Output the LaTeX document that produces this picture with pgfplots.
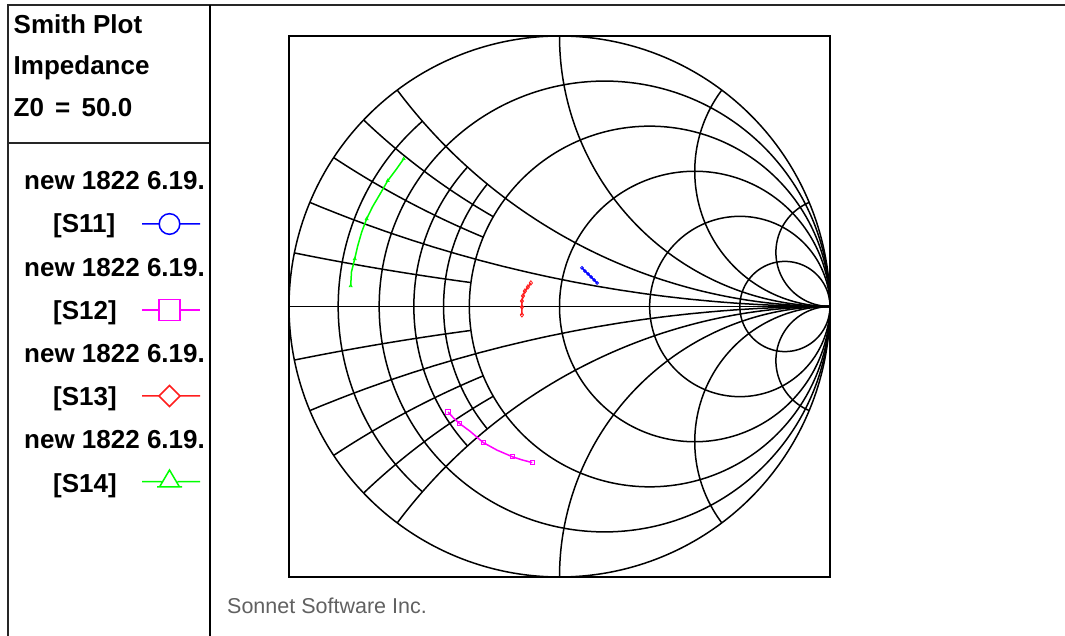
\documentclass[border=0pt]{standalone}
\usepackage{pgfplots}
\pgfplotsset{compat=1.18}
\usepackage{fontspec}
\setmainfont{Liberation Sans}

\definecolor{sblue}{RGB}{0,0,255}
\definecolor{smag}{RGB}{255,0,255}
\definecolor{sred}{RGB}{255,30,30}
\definecolor{sgreen}{RGB}{0,255,0}

\tikzset{smgrid/.style={line width=1.5pt, black}}

% full constant-resistance circle
\newcommand{\rcirc}[1]{\draw[smgrid] plot[variable=\a,domain=0:360,samples=181,smooth]
  ({(#1+cos(\a))/(1+#1)},{sin(\a)/(1+#1)});}
% constant-resistance arc limited to |x| <= #2
\newcommand{\rarc}[2]{\draw[smgrid] plot[variable=\u,domain=-#2:#2,samples=61,smooth]
  ({(#1*#1+\u*\u-1)/((#1+1)^2+\u*\u)},{2*\u/((#1+1)^2+\u*\u)});}
% full constant-reactance arcs +-#1, #2 = angle where the arc meets the rim
\newcommand{\xfull}[2]{%
  \draw[smgrid] plot[variable=\a,domain=#2:270,samples=90,smooth]
    ({1+cos(\a)/#1},{1/#1+sin(\a)/#1});
  \draw[smgrid] plot[variable=\a,domain=#2:270,samples=90,smooth]
    ({1+cos(\a)/#1},{-1/#1-sin(\a)/#1});}
% constant-reactance arcs +-#1 limited to r <= #2
\newcommand{\xpart}[2]{%
  \draw[smgrid] plot[variable=\u,domain=0:#2,samples=41,smooth]
    ({(\u*\u+#1*#1-1)/((\u+1)^2+#1*#1)},{2*#1/((\u+1)^2+#1*#1)});
  \draw[smgrid] plot[variable=\u,domain=0:#2,samples=41,smooth]
    ({(\u*\u+#1*#1-1)/((\u+1)^2+#1*#1)},{-2*#1/((\u+1)^2+#1*#1)});}

\begin{document}
\begin{tikzpicture}[x=1pt,y=1pt]
\useasboundingbox (0,0) rectangle (1065,636);
\fill[white] (0,0) rectangle (1065,636);

% window frame
\draw[line width=1.5pt, black!85] (8,0) -- (8,631) -- (1065,631);
\draw[line width=1.5pt, black!85] (8,493) -- (210,493);
\draw[line width=2.8pt, black] (210,0) -- (210,631);

% header
\begin{scope}[font=\fontsize{26}{30}\selectfont\bfseries]
\node[anchor=base west, inner sep=0] at (13.5,602) {Smith Plot};
\node[anchor=base west, inner sep=0] at (13.5,561) {Impedance};
\node[anchor=base west, inner sep=0] at (13.5,519) {Z0\hspace{4pt} =\hspace{4pt} 50.0};
\end{scope}

% legend
\begin{scope}[font=\fontsize{26}{30}\selectfont\bfseries]
\clip (9,0) rectangle (208.5,492);
\node[anchor=base west, inner sep=0] at (24,446) {new 1822 6.19.};
\node[anchor=base west, inner sep=0] at (53,403) {[S11]};
\node[anchor=base west, inner sep=0] at (24,359) {new 1822 6.19.};
\node[anchor=base west, inner sep=0] at (53,316) {[S12]};
\node[anchor=base west, inner sep=0] at (24,273) {new 1822 6.19.};
\node[anchor=base west, inner sep=0] at (53,230) {[S13]};
\node[anchor=base west, inner sep=0] at (24,187) {new 1822 6.19.};
\node[anchor=base west, inner sep=0] at (53,143) {[S14]};
\end{scope}
\begin{scope}[line width=1.5pt]
\draw[sblue] (142,412) -- (159.2,412) (179.8,412) -- (200,412) (169.5,412) circle (10.3);
\draw[smag] (142,326) -- (159,326) (180,326) -- (200,326) (159,315.5) rectangle (180,336.5);
\draw[sred] (142,240) -- (159,240) (180,240) -- (200,240)
  (159,240) -- (169.5,250.5) -- (180,240) -- (169.5,229.5) -- cycle;
\draw[sgreen] (142,154.3) -- (161.5,154.3) (177.5,154.3) -- (200,154.3)
  (157,149) -- (182,149) (159.5,149) -- (169.5,166) -- (179.5,149);
\end{scope}

\node[anchor=base west, inner sep=0, text=black!62,
  font=\fontsize{21.5}{24}\selectfont] at (227,22) {Sonnet Software Inc.};

\begin{axis}[
  at={(289pt,59pt)}, anchor=south west,
  width=541pt, height=541pt, scale only axis,
  xmin=-1, xmax=1, ymin=-1, ymax=1,
  xtick=\empty, ytick=\empty,
  axis line style={line width=1.6pt, black},
]
% chart grid
\rcirc{0}
\rcirc{0.2}
\rcirc{0.5}
\rcirc{1}
\rcirc{2}
\rcirc{5}
\rarc{0.1}{0.5}
\rarc{0.3}{0.5}
\rarc{0.4}{0.5}
\xfull{0.2}{247.38}
\xfull{0.5}{216.87}
\xfull{1}{180}
\xfull{2}{143.13}
\xfull{5}{112.62}
\xpart{0.1}{0.5}
\xpart{0.3}{0.5}
\xpart{0.4}{0.5}
\draw[smgrid] (-1,0) -- (1,0);

% S11
\addplot[sblue, line width=1.5pt, mark=o, mark size=1.4pt, mark options={line width=0.8pt}]
  coordinates {(0.083,0.143)(0.094,0.131)(0.106,0.120)(0.117,0.109)(0.128,0.098)(0.139,0.087)};
% S12
\addplot[smag, line width=1.5pt, mark=square, mark size=2.1pt, mark options={line width=1pt},
  mark indices={1,3,5,7,9}]
  coordinates {(-0.412,-0.390)(-0.391,-0.413)(-0.369,-0.433)(-0.331,-0.461)(-0.282,-0.503)
    (-0.231,-0.531)(-0.173,-0.556)(-0.139,-0.567)(-0.101,-0.577)};
% S13
\addplot[sred, line width=1.5pt, mark=diamond, mark size=2.2pt, mark options={line width=0.8pt}]
  coordinates {(-0.106,0.087)(-0.117,0.072)(-0.128,0.057)(-0.135,0.039)(-0.139,0.020)
    (-0.139,-0.002)(-0.139,-0.031)};
% S14
\addplot[sgreen, line width=1.5pt, mark=triangle, mark size=1.6pt, mark options={line width=0.8pt},
  mark indices={1,3,6,9,11}]
  coordinates {(-0.576,0.546)(-0.602,0.509)(-0.635,0.465)(-0.665,0.413)(-0.691,0.369)
    (-0.713,0.324)(-0.731,0.276)(-0.746,0.224)(-0.757,0.176)(-0.769,0.128)(-0.772,0.076)};
\end{axis}
\end{tikzpicture}
\end{document}
